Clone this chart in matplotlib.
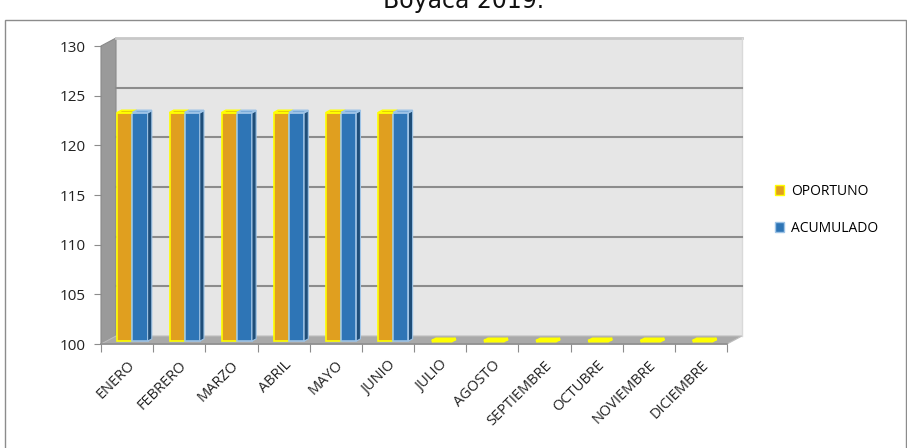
import matplotlib
matplotlib.use("Agg")
import matplotlib.pyplot as plt
from matplotlib.patches import Polygon, Rectangle, Patch

# datos
meses = ["ENERO", "FEBRERO", "MARZO", "ABRIL", "MAYO", "JUNIO", "JULIO",
         "AGOSTO", "SEPTIEMBRE", "OCTUBRE", "NOVIEMBRE", "DICIEMBRE"]
oportuno = [123, 123, 123, 123, 123, 123, 0, 0, 0, 0, 0, 0]
acumulado = [123, 123, 123, 123, 123, 123, 0, 0, 0, 0, 0, 0]
y_ticks = [100, 105, 110, 115, 120, 125, 130]

YMIN, YMAX = 100, 130
W, H = 907, 448

fig = plt.figure(figsize=(W / 100, H / 100), dpi=100)
plt.rcParams['font.family'] = ['Open Sans', 'DejaVu Sans']

# plano frontal del grafico (en pixeles de la imagen)
left_px, right_px, top_px, bot_px = 101, 727, 46, 344
ax = fig.add_axes([left_px / W, 1 - bot_px / H,
                   (right_px - left_px) / W, (bot_px - top_px) / H])
ax.set_xlim(0, len(meses))
ax.set_ylim(YMIN, YMAX)
ax.patch.set_alpha(0)
for s in ax.spines.values():
    s.set_visible(False)

# profundidad 3D en unidades de datos
ux = (right_px - left_px) / len(meses)
uy = (bot_px - top_px) / (YMAX - YMIN)
DX = 15 / ux
DY = 8 / uy


def poly(pts, **kw):
    p = Polygon(pts, closed=True, clip_on=False, **kw)
    ax.add_patch(p)
    return p


n = len(meses)
# paredes
poly([(DX, YMIN + DY), (n + DX, YMIN + DY), (n + DX, YMAX + DY), (DX, YMAX + DY)],
     facecolor="#e6e6e6", edgecolor="none", zorder=0)
poly([(0, YMIN), (DX, YMIN + DY), (DX, YMAX + DY), (0, YMAX)],
     facecolor="#9a9a9a", edgecolor="#8a8a8a", lw=0.8, zorder=1)
poly([(0, YMIN), (n, YMIN), (n + DX, YMIN + DY), (DX, YMIN + DY)],
     facecolor="#a9a9a9", edgecolor="#bdbdbd", lw=0.8, zorder=1)
ax.plot([DX, n + DX], [YMAX + DY, YMAX + DY], color="#c8c8c8", lw=2,
        clip_on=False, zorder=1)
ax.plot([n + DX, n + DX], [YMIN + DY, YMAX + DY], color="#d9d9d9", lw=1,
        clip_on=False, zorder=1)
ax.plot([0, n], [YMIN, YMIN], color="#8c8c8c", lw=1.2, clip_on=False, zorder=2)

# lineas de division
for v in y_ticks[1:-1]:
    ax.plot([DX, n + DX], [v + DY, v + DY], color="#8c8c8c", lw=1.5,
            clip_on=False, zorder=1)

# barras
bw = 0.29
df, db = 0.36, 0.64


def bar3d(x0, val, front, side, top, edge, w=bw, lw_top=1.3):
    v = max(val, YMIN)
    if v > YMIN:
        poly([(x0 + df * DX, YMIN + df * DY), (x0 + w + df * DX, YMIN + df * DY),
              (x0 + w + df * DX, v + df * DY), (x0 + df * DX, v + df * DY)],
             facecolor=front, edgecolor=edge, lw=1.2, zorder=3)
        poly([(x0 + w + df * DX, YMIN + df * DY), (x0 + w + db * DX, YMIN + db * DY),
              (x0 + w + db * DX, v + db * DY), (x0 + w + df * DX, v + df * DY)],
             facecolor=side, edgecolor=edge, lw=0.8, zorder=3)
    poly([(x0 + df * DX, v + df * DY), (x0 + w + df * DX, v + df * DY),
          (x0 + w + db * DX, v + db * DY), (x0 + db * DX, v + db * DY)],
         facecolor=top, edgecolor=edge, lw=lw_top, zorder=4)


for i in range(n):
    xc = i + 0.5
    if acumulado[i] > YMIN:
        bar3d(xc - bw, oportuno[i], "#e09f1f", "#a56f0c", "#c98a12", "#ffff00")
        bar3d(xc, acumulado[i], "#2e75b6", "#1f4e79", "#4f8cc9", "#9dc3e6")
    else:
        # barras en cero: solo se ve la cara superior sobre el piso
        bar3d(xc - bw * 0.9, oportuno[i], "#c98a12", "#a56f0c", "#c98a12",
              "#ffff00", w=bw * 1.3, lw_top=2)

# ejes
ax.set_yticks(y_ticks)
ax.set_yticklabels([str(v) for v in y_ticks], fontsize=11, color="#222222")
ax.tick_params(axis="y", length=5, color="#8c8c8c", pad=6)
ax.set_xticks(range(n + 1))
ax.set_xticklabels([])
ax.tick_params(axis="x", which="major", length=6, color="#8c8c8c")
ax.set_xticks([i + 0.5 for i in range(n)], minor=True)
ax.set_xticklabels(meses, minor=True, rotation=45, ha="right", va="top",
                   rotation_mode="anchor", fontsize=10.5, color="#222222")
ax.tick_params(axis="x", which="minor", length=0, pad=10)

# leyenda
handles = [Patch(facecolor="#e09f1f", edgecolor="#ffff00", lw=1, label="OPORTUNO"),
           Patch(facecolor="#2e75b6", edgecolor="#9dc3e6", lw=1, label="ACUMULADO")]
fig.legend(handles=handles, loc="center left", frameon=False,
           bbox_to_anchor=(762 / W, 1 - 210 / H), fontsize=10,
           handlelength=0.7, handleheight=0.7, handletextpad=0.5,
           labelspacing=1.6)

# marco y titulo
fig.patches.append(Rectangle((5 / W, -0.01), (W - 6) / W, 1 - 20 / H + 0.01,
                             transform=fig.transFigure, fill=False,
                             edgecolor="#8c8c8c", lw=1))
fig.text(464 / W, 1 - 8 / H, "Boyacá 2019.", ha="center", va="baseline",
         fontsize=17, family="DejaVu Sans", color="#111111")

fig.savefig("out.png", dpi=100)
